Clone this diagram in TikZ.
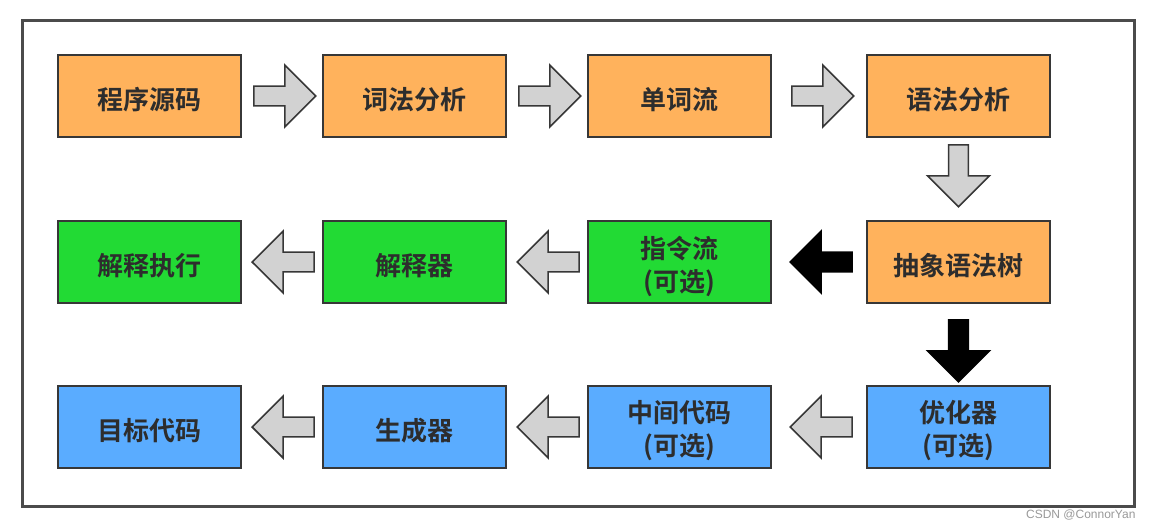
\documentclass[tikz,border=0pt]{standalone}
\usepackage{fontspec}
\newfontfamily\cjk{Noto Sans CJK SC}[UprightFont=* Bold]
\setsansfont{Liberation Sans}
\usetikzlibrary{shapes.arrows,calc}
\definecolor{cOrange}{RGB}{255,178,92}
\definecolor{cGreen}{RGB}{34,218,52}
\definecolor{cBlue}{RGB}{90,172,255}
\definecolor{cEdge}{RGB}{55,55,55}
\definecolor{cText}{RGB}{45,45,45}
\definecolor{cArrow}{RGB}{210,210,210}
\tikzset{
  boxtext/.style={font=\cjk\fontsize{26}{33}\selectfont, text=cText, align=center,
    inner sep=0pt, yshift=-4pt},
  stepbox/.style={draw=cEdge, line width=2pt, minimum width=183pt, minimum height=82pt,
    inner sep=0pt},
  orangebox/.style={stepbox, fill=cOrange},
  greenbox/.style={stepbox, fill=cGreen},
  bluebox/.style={stepbox, fill=cBlue},
  blockarrow/.style={single arrow, draw=cEdge, line width=1.6pt, fill=cArrow,
    minimum height=62pt, minimum width=62pt, inner sep=9pt,
    single arrow head extend=21pt},
  blackarrow/.style={blockarrow, draw=black, fill=black},
}
\begin{document}
\begin{tikzpicture}[x=1pt,y=-1pt]
\useasboundingbox (0,0) rectangle (1154,530);
\draw[draw=cEdge!90, line width=3pt] (22,20) rectangle (1134,506);
% row 1
\node[orangebox, label={[boxtext]center:程序源码}] (n11) at (149.5,96) {};
\node[orangebox, label={[boxtext]center:词法分析}] (n12) at (414.5,96) {};
\node[orangebox, label={[boxtext]center:单词流}] (n13) at (679.5,96) {};
\node[orangebox, label={[boxtext]center:语法分析}] (n14) at (958.5,96) {};
% row 2
\node[greenbox, label={[boxtext]center:解释执行}] (n21) at (149.5,262) {};
\node[greenbox, label={[boxtext]center:解释器}] (n22) at (414.5,262) {};
\node[greenbox, label={[boxtext]center:指令流\\(可选)}] (n23) at (679.5,262) {};
\node[orangebox, label={[boxtext]center:抽象语法树}] (n24) at (958.5,262) {};
% row 3
\node[bluebox, label={[boxtext]center:目标代码}] (n31) at (149.5,427) {};
\node[bluebox, label={[boxtext]center:生成器}] (n32) at (414.5,427) {};
\node[bluebox, label={[boxtext]center:中间代码\\(可选)}] (n33) at (679.5,427) {};
\node[bluebox, label={[boxtext]center:优化器\\(可选)}] (n34) at (958.5,427) {};
% arrows row 1 (pointing right)
\node[blockarrow, anchor=tail] (a1) at ($(n11.east)+(11,0)$) {};
\node[blockarrow, anchor=tail] (a2) at ($(n12.east)+(11,0)$) {};
\node[blockarrow, anchor=tail] (a3) at ($(n13.east)+(19,0)$) {};
% down arrows
\node[blockarrow, shape border rotate=270, anchor=tail] (a4) at ($(n14.south)+(0,6)$) {};
\node[blackarrow, shape border rotate=270, anchor=tail] (a5) at ($(n24.south)+(0,15)$) {};
% row 2 arrows (pointing left)
\node[blackarrow, shape border rotate=180, anchor=tip] (a6) at ($(n23.east)+(17,0)$) {};
\node[blockarrow, shape border rotate=180, anchor=tip] (a7) at ($(n22.east)+(9,0)$) {};
\node[blockarrow, shape border rotate=180, anchor=tip] (a8) at ($(n21.east)+(9,0)$) {};
% row 3 arrows (pointing left)
\node[blockarrow, shape border rotate=180, anchor=tip] (a9) at ($(n33.east)+(17,0)$) {};
\node[blockarrow, shape border rotate=180, anchor=tip] (a10) at ($(n32.east)+(9,0)$) {};
\node[blockarrow, shape border rotate=180, anchor=tip] (a11) at ($(n31.east)+(9,0)$) {};
% watermark
\node[anchor=east, font=\sffamily\fontsize{12}{14}\selectfont, text=gray!80] (wm) at (1139,515) {CSDN @ConnorYan};
\end{tikzpicture}
\end{document}
